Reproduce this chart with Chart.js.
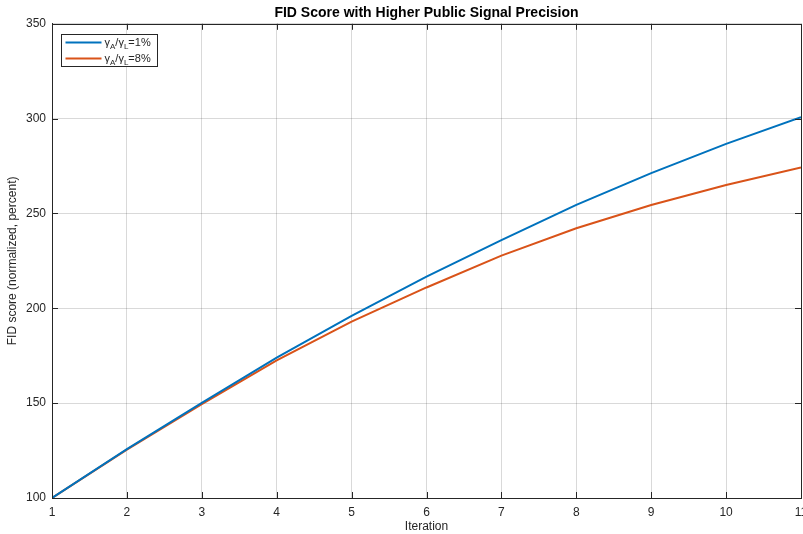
<!DOCTYPE html>
<html>
<head>
<meta charset="utf-8">
<script src="https://cdn.jsdelivr.net/npm/chart.js@4/dist/chart.umd.min.js"></script>
<style>
html,body{margin:0;padding:0;background:#fff;overflow:hidden;}
canvas{display:block;}
</style>
</head>
<body>
<canvas id="chart" width="803" height="534"></canvas>
<script>
// values
const iterations=[1,2,3,4,5,6,7,8,9,10,11];
const score1=[100,125.8,150.2,174,196,216.7,236,254.5,271.3,286.7,300.8];
const score8=[100,125.5,149.5,172.5,193,211,227.8,242.2,254.5,265,274.3];
const seriesNames=[['=1%'],['=8%']];
const seriesColors=['#0072BD','#D95319'];

const FONT='"Liberation Sans", Arial, Helvetica, sans-serif';
const AXIS='#262626';

function pts(ys){ return iterations.map((x,i)=>({x:x,y:ys[i]})); }

// box + inward ticks, MATLAB style
const boxPlugin={
  id:'box',
  afterDatasetsDraw(c){
    const a=c.chartArea, g=c.ctx, sx=c.scales.x, sy=c.scales.y;
    g.save();
    g.strokeStyle=AXIS; g.lineWidth=1;
    g.strokeRect(Math.round(a.left)+0.5,Math.round(a.top)+0.5,Math.round(a.right-a.left),Math.round(a.bottom-a.top));
    g.beginPath();
    sx.ticks.forEach(t=>{
      const px=Math.round(sx.getPixelForValue(t.value))+0.5;
      g.moveTo(px,a.bottom); g.lineTo(px,a.bottom-6);
      g.moveTo(px,a.top); g.lineTo(px,a.top+6);
    });
    sy.ticks.forEach(t=>{
      const py=Math.round(sy.getPixelForValue(t.value))+0.5;
      g.moveTo(a.left,py); g.lineTo(a.left+6,py);
      g.moveTo(a.right,py); g.lineTo(a.right-6,py);
    });
    g.stroke();
    g.restore();
  },
  afterDraw(c){
    // legend with subscripts
    const a=c.chartArea, g=c.ctx;
    const bx=Math.round(a.left)+9.5, by=Math.round(a.top)+10.5, bw=96, bh=32;
    g.save();
    g.fillStyle='#fff'; g.fillRect(bx,by,bw,bh);
    g.strokeStyle=AXIS; g.lineWidth=1; g.strokeRect(bx,by,bw,bh);
    c.data.datasets.forEach((ds,i)=>{
      const y=by+8+i*16;
      g.strokeStyle=ds.borderColor; g.lineWidth=2;
      g.beginPath(); g.moveTo(bx+4,y); g.lineTo(bx+40,y); g.stroke();
      let x=bx+43;
      g.fillStyle=AXIS; g.textBaseline='middle'; g.textAlign='left';
      const parts=[['γ',0],['A',1],['/γ',0],['L',1],[seriesNames[i][0],0]];
      parts.forEach(p=>{
        g.font=(p[1]?'8px ':'11px ')+FONT;
        g.fillText(p[0],x,y+(p[1]?4:0));
        x+=g.measureText(p[0]).width;
      });
    });
    g.restore();
  }
};

const ctx=document.getElementById('chart').getContext('2d');
const chart=new Chart(ctx,{
  type:'line',
  data:{
    datasets:[
      {label:'γA/γL=1%',data:pts(score1),borderColor:seriesColors[0],borderWidth:2,pointRadius:0,fill:false,tension:0},
      {label:'γA/γL=8%',data:pts(score8),borderColor:seriesColors[1],borderWidth:2,pointRadius:0,fill:false,tension:0}
    ]
  },
  options:{
    responsive:false,
    animation:false,
    layout:{padding:{right:2}},
    plugins:{
      legend:{display:false},
      tooltip:{enabled:false},
      title:{display:true,text:'FID Score with Higher Public Signal Precision',fullSize:false,
        color:'#000',font:{family:FONT,size:14,weight:'bold',lineHeight:1.2},padding:{top:5,bottom:2}}
    },
    scales:{
      x:{
        type:'linear',min:1,max:11,
        ticks:{stepSize:1,color:AXIS,padding:7,maxRotation:0,font:{family:FONT,size:12}},
        grid:{color:'rgba(0,0,0,0.15)',drawTicks:false},
        border:{color:AXIS},
        title:{display:true,text:'Iteration',color:AXIS,font:{family:FONT,size:12},padding:{top:0,bottom:0}},
        afterFit:s=>{s.height=36;s.paddingLeft=0;s.paddingRight=0;}
      },
      y:{
        min:100,max:350,
        ticks:{stepSize:50,color:AXIS,padding:6,font:{family:FONT,size:12}},
        grid:{color:'rgba(0,0,0,0.15)',drawTicks:false},
        border:{color:AXIS},
        title:{display:true,text:'FID score (normalized, percent)',color:AXIS,font:{family:FONT,size:12},padding:{top:5,bottom:5}},
        afterFit:s=>{s.width=52;s.paddingTop=0;s.paddingBottom=0;}
      }
    }
  },
  plugins:[boxPlugin]
});
</script>
</body>
</html>
